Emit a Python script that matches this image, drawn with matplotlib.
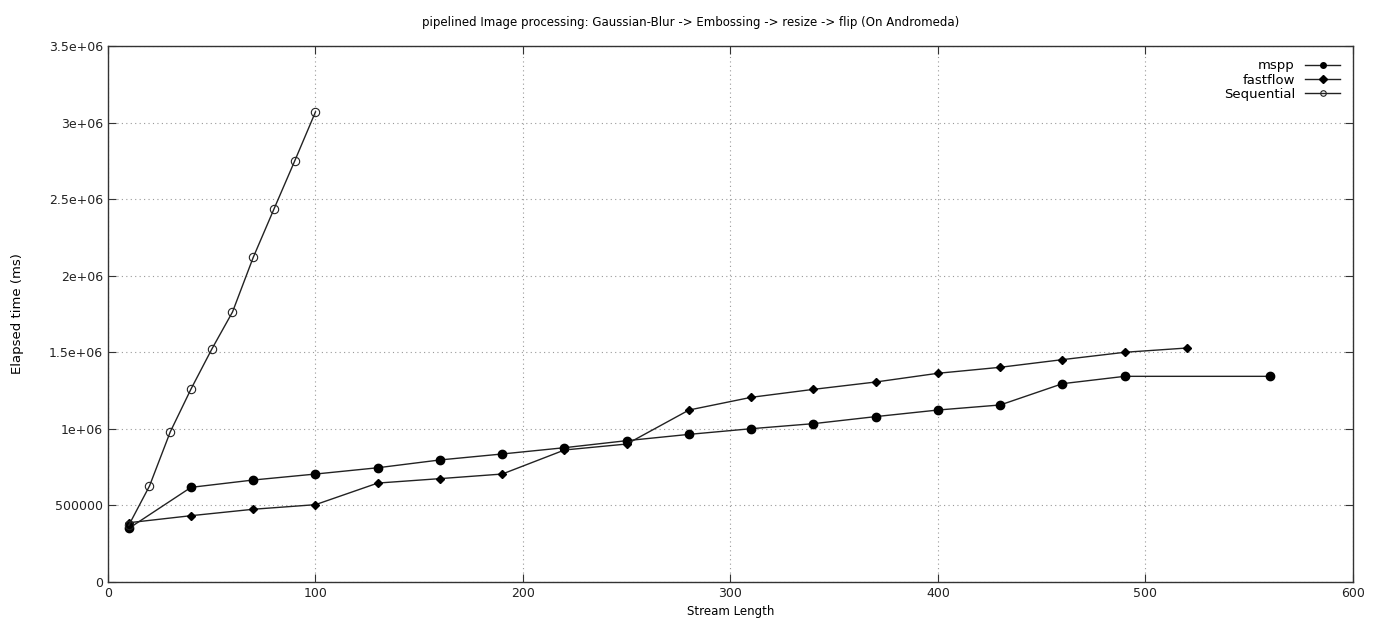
import matplotlib as mpl
mpl.use('Agg')
import matplotlib.pyplot as plt
from matplotlib.ticker import FuncFormatter

# stream length vs elapsed time (ms)
mspp_x = [10, 40, 70, 100, 130, 160, 190, 220, 250, 280, 310, 340, 370, 400, 430, 460, 490, 560]
mspp_y = [350000, 618000, 666000, 705000, 746000, 797000, 836000, 877000, 923000, 964000,
          1001000, 1034000, 1080000, 1123000, 1156000, 1295000, 1343000, 1343000]

fastflow_x = [10, 40, 70, 100, 130, 160, 190, 220, 250, 280, 310, 340, 370, 400, 430, 460, 490, 520]
fastflow_y = [387000, 433000, 475000, 505000, 646000, 675000, 705000, 862000, 901000, 1123000,
              1206000, 1258000, 1306000, 1363000, 1402000, 1452000, 1500000, 1528000]

seq_x = [10, 20, 30, 40, 50, 60, 70, 80, 90, 100]
seq_y = [370000, 627000, 980000, 1260000, 1520000, 1763000, 2120000, 2436000, 2750000, 3070000]

plt.rcParams['font.family'] = 'DejaVu Sans'
plt.rcParams['font.size'] = 9

fig = plt.figure(figsize=(13.82, 6.32), dpi=100)
ax = fig.add_axes([108 / 1382, 1 - 582 / 632, (1353 - 108) / 1382, (582 - 46) / 632])

lc = '#222222'
ax.plot(mspp_x, mspp_y, color=lc, lw=1, marker='o', ms=6, mfc='black', mec='black', label='mspp')
ax.plot(fastflow_x, fastflow_y, color=lc, lw=1, marker='D', ms=4, mfc='black', mec='black', label='fastflow')
ax.plot(seq_x, seq_y, color=lc, lw=1, marker='o', ms=6, mfc='none', mec=lc, mew=0.8, label='Sequential')

ax.set_xlim(0, 600)
ax.set_ylim(0, 3500000)
ax.set_xticks(range(0, 601, 100))
ax.set_yticks(range(0, 3500001, 500000))

# gnuplot-like tick labels: plain below 1e6, exponent form above
ax.yaxis.set_major_formatter(FuncFormatter(lambda v, p: '0' if v == 0 else ('%d' % v if v < 1e6 else '%g' % v)))

ax.grid(True, linestyle=(0, (1, 3)), color='#999999', lw=0.8)
ax.tick_params(direction='in', top=True, right=True, length=6, width=0.8, colors='#333333',
               labelcolor='#222222', labelsize=9)
for s in ax.spines.values():
    s.set_color('#333333')
    s.set_linewidth(1)

ax.set_xlabel('Stream Length', fontsize=8.5, labelpad=4)
ax.set_ylabel('Elapsed time (ms)', fontsize=9.5, labelpad=18)
fig.suptitle('pipelined Image processing: Gaussian-Blur -> Embossing -> resize -> flip (On Andromeda)',
             fontsize=8.5, y=0.975)

leg = ax.legend(loc='upper right', frameon=False, markerfirst=False, fontsize=9.5,
                handlelength=2.6, labelspacing=0.1, borderaxespad=0.6)
for h in leg.legend_handles:
    h.set_markersize(4)

fig.savefig('out.png', dpi=100)
